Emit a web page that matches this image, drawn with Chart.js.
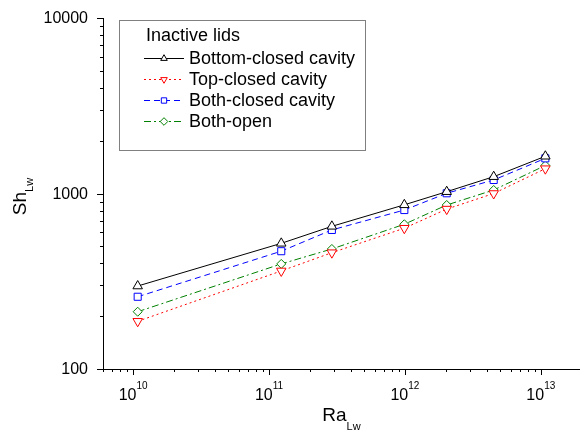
<!DOCTYPE html>
<html>
<head>
<meta charset="utf-8">
<script src="https://cdn.jsdelivr.net/npm/chart.js@4.4.0/dist/chart.umd.min.js"></script>
<style>
body { margin: 0; background: #fff; }
#wrap { width: 580px; height: 431px; }
</style>
</head>
<body>
<div id="wrap"><canvas id="shChart" width="580" height="431"></canvas></div>
<script>
// Sh_Lw vs Ra_Lw, inactive lids
const raValues = [1.08e10, 1.23e11, 2.9e11, 9.9e11, 2.03e12, 4.5e12, 1.08e13];
const bottomClosed = [297, 520, 650, 862, 1024, 1247, 1630];
const topClosed = [187, 362, 460, 634, 815, 1000, 1385];
const bothClosed = [258, 469, 620, 805, 1003, 1194, 1586];
const bothOpen = [212, 397, 483, 668, 860, 1047, 1445];

const seriesLabels = ['Bottom-closed cavity', 'Top-closed cavity', 'Both-closed cavity', 'Both-open'];
const legendTitle = 'Inactive lids';
const xMajorExps = [10, 11, 12, 13];
const yMajorTicks = [100, 1000, 10000];

const FONT = 'Arial, "Liberation Sans", sans-serif';

function toPoints(vals) {
    return vals.map((v, i) => ({ x: raValues[i], y: v }));
}

// 1..9 x 10^n ticks between min and max
function logTicks(min, max) {
    const out = [];
    for (let e = Math.floor(Math.log10(min)); e <= Math.ceil(Math.log10(max)); e++) {
        for (let s = 1; s < 10; s++) {
            const v = s * Math.pow(10, e);
            if (v >= min * 0.999 && v <= max * 1.001) out.push({ v: v, major: s === 1 });
        }
    }
    return out;
}

const axisDecor = {
    id: 'axisDecor',
    afterDraw(chart) {
        const { ctx, chartArea, scales: { x, y } } = chart;
        ctx.save();
        ctx.strokeStyle = '#000';
        ctx.fillStyle = '#000';
        ctx.lineWidth = 1;

        // x axis line runs on to the canvas edge
        ctx.beginPath();
        ctx.moveTo(chartArea.right - 1, Math.round(chartArea.bottom) + 0.5);
        ctx.lineTo(chart.width, Math.round(chartArea.bottom) + 0.5);
        ctx.stroke();

        // tick marks
        logTicks(x.min, x.max).forEach(t => {
            const px = Math.round(x.getPixelForValue(t.v)) + 0.5;
            ctx.beginPath();
            ctx.moveTo(px, chartArea.bottom);
            ctx.lineTo(px, chartArea.bottom + (t.major ? 6 : 3));
            ctx.stroke();
        });
        logTicks(y.min, y.max).forEach(t => {
            const py = Math.round(y.getPixelForValue(t.v)) + 0.5;
            ctx.beginPath();
            ctx.moveTo(chartArea.left, py);
            ctx.lineTo(chartArea.left - (t.major ? 6 : 3), py);
            ctx.stroke();
        });

        // x tick labels as 10^n
        ctx.textAlign = 'left';
        ctx.textBaseline = 'alphabetic';
        xMajorExps.forEach(e => {
            const px = x.getPixelForValue(Math.pow(10, e));
            ctx.font = '16px ' + FONT;
            const w1 = ctx.measureText('10').width;
            ctx.font = '10px ' + FONT;
            const w2 = ctx.measureText(String(e)).width;
            const left = px - (w1 + w2) / 2;
            ctx.font = '16px ' + FONT;
            ctx.fillText('10', left, chartArea.bottom + 31);
            ctx.font = '10px ' + FONT;
            ctx.fillText(String(e), left + w1, chartArea.bottom + 20);
        });

        // y tick labels
        ctx.font = '16px ' + FONT;
        ctx.textAlign = 'right';
        ctx.textBaseline = 'middle';
        yMajorTicks.forEach(v => {
            ctx.fillText(String(v), chartArea.left - 15, y.getPixelForValue(v) + 1);
        });

        // axis titles with subscripts
        ctx.textAlign = 'left';
        ctx.textBaseline = 'alphabetic';
        ctx.font = '19px ' + FONT;
        const wRa = ctx.measureText('Ra').width;
        ctx.font = '11px ' + FONT;
        const wLw = ctx.measureText('Lw').width;
        const cx = (chartArea.left + chart.width) / 2;
        ctx.font = '19px ' + FONT;
        ctx.fillText('Ra', cx - (wRa + wLw) / 2, chartArea.bottom + 52);
        ctx.font = '11px ' + FONT;
        ctx.fillText('Lw', cx - (wRa + wLw) / 2 + wRa, chartArea.bottom + 61);

        ctx.font = '19px ' + FONT;
        const wSh = ctx.measureText('Sh').width;
        ctx.save();
        ctx.translate(26, (chartArea.top + chartArea.bottom) / 2 + 3);
        ctx.rotate(-Math.PI / 2);
        ctx.fillText('Sh', -(wSh + wLw) / 2, 0);
        ctx.font = '11px ' + FONT;
        ctx.fillText('Lw', -(wSh + wLw) / 2 + wSh, 7);
        ctx.restore();

        // legend box
        ctx.strokeStyle = '#808080';
        ctx.strokeRect(119.5, 20.5, 246, 130);
        ctx.fillStyle = '#000';
        ctx.font = '18px ' + FONT;
        ctx.textBaseline = 'middle';
        ctx.fillText(legendTitle, 146, 36);
        chart.data.datasets.forEach((ds, i) => {
            const ry = Math.round(57.5 + i * 21.3) + 0.5;
            ctx.strokeStyle = ds.borderColor;
            ctx.setLineDash(ds.borderDash || []);
            ctx.beginPath();
            ctx.moveTo(144, ry);
            ctx.lineTo(184, ry);
            ctx.stroke();
            ctx.setLineDash([]);
            ctx.fillStyle = '#fff';
            Chart.helpers.drawPoint(ctx, {
                pointStyle: ds.pointStyle,
                rotation: ds.pointRotation || 0,
                radius: 3.8,
                borderWidth: 1
            }, 164, ry);
            ctx.fillStyle = '#000';
            ctx.fillText(ds.label, 189, ry + 1);
        });
        ctx.restore();
    }
};

const shConfig = {
    type: 'line',
    data: {
        datasets: [{
            label: seriesLabels[0],
            data: toPoints(bottomClosed),
            borderColor: '#000000',
            pointStyle: 'triangle',
            pointRadius: 5.5
        }, {
            label: seriesLabels[1],
            data: toPoints(topClosed),
            borderColor: '#ff0000',
            borderDash: [2, 3],
            pointStyle: 'triangle',
            pointRotation: 180,
            pointRadius: 5.5
        }, {
            label: seriesLabels[2],
            data: toPoints(bothClosed),
            borderColor: '#0000ff',
            borderDash: [6, 4],
            pointStyle: 'rect',
            pointRadius: 5
        }, {
            label: seriesLabels[3],
            data: toPoints(bothOpen),
            borderColor: '#008000',
            borderDash: [7, 3, 2, 3],
            pointStyle: 'rectRot',
            pointRadius: 4.5
        }].map(ds => Object.assign({
            borderWidth: 1,
            pointBackgroundColor: '#ffffff',
            pointBorderColor: ds.borderColor,
            pointBorderWidth: 1,
            tension: 0,
            fill: false
        }, ds))
    },
    options: {
        responsive: false,
        animation: false,
        events: [],
        layout: { padding: { left: 103, right: 0, top: 18, bottom: 62 } },
        plugins: {
            legend: { display: false },
            tooltip: { enabled: false }
        },
        scales: {
            x: {
                type: 'logarithmic',
                min: 6e9,
                max: 1.74e13,
                grid: { display: false, drawTicks: false },
                ticks: { display: false },
                border: { color: '#000', width: 1 }
            },
            y: {
                type: 'logarithmic',
                min: 100,
                max: 10000,
                grid: { display: false, drawTicks: false },
                ticks: { display: false },
                border: { color: '#000', width: 1 }
            }
        }
    },
    plugins: [axisDecor]
};

new Chart(document.getElementById('shChart'), shConfig);
</script>
</body>
</html>
